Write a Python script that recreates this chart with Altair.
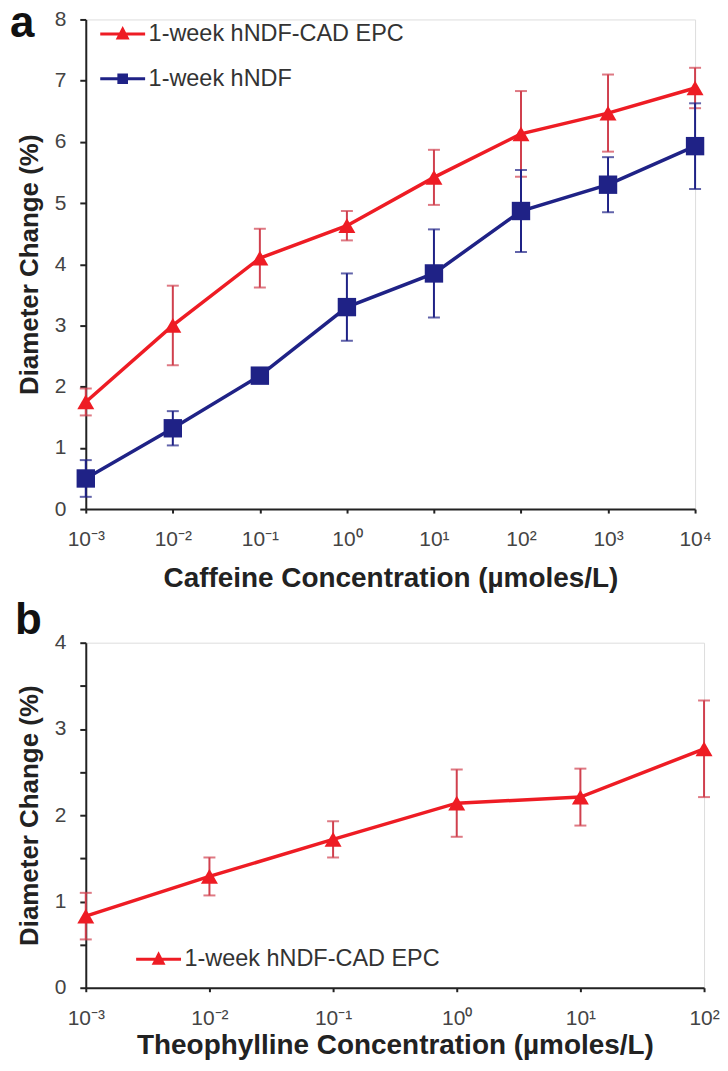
import altair as alt
import pandas as pd

# ---------------- data ----------------
series_names = ["1-week hNDF-CAD EPC", "1-week hNDF"]

conc_a = [0.001, 0.01, 0.1, 1, 10, 100, 1000, 10000]
tick_labels_a = ["10⁻³", "10⁻²", "10⁻¹", "10⁰", "10¹", "10²", "10³", "10⁴"]
red_a = [1.75, 3.0, 4.1, 4.63, 5.42, 6.13, 6.47, 6.88]
red_a_err = [0.22, 0.65, 0.48, 0.24, 0.45, 0.7, 0.63, 0.33]
blue_a = [0.5, 1.32, 2.18, 3.3, 3.85, 4.87, 5.3, 5.93]
blue_a_err = [0.3, 0.28, 0.06, 0.55, 0.72, 0.67, 0.45, 0.7]

conc_b = [0.001, 0.01, 0.1, 1, 10, 100]
tick_labels_b = ["10⁻³", "10⁻²", "10⁻¹", "10⁰", "10¹", "10²"]
red_b = [0.83, 1.29, 1.72, 2.14, 2.21, 2.77]
red_b_err = [0.27, 0.22, 0.21, 0.39, 0.33, 0.56]

y_ticks_a = [0, 1, 2, 3, 4, 5, 6, 7, 8]
y_ticks_b = [0, 0.5, 1, 1.5, 2, 2.5, 3, 3.5, 4]

RED = "#ee1c24"
RED_ERR = "#d0404e"
BLUE = "#1f2286"
FONT = "Liberation Sans"
AXC = "#222222"


def frame(conc, vals, errs, name):
    return pd.DataFrame({
        "conc": conc,
        "val": vals,
        "lo": [v - e for v, e in zip(vals, errs)],
        "hi": [v + e for v, e in zip(vals, errs)],
        "series": name,
    })


df_a = pd.concat([frame(conc_a, red_a, red_a_err, series_names[0]),
                  frame(conc_a, blue_a, blue_a_err, series_names[1])])
df_b = frame(conc_b, red_b, red_b_err, series_names[0])


def label_expr(labels):
    arr = "[" + ",".join("'" + s + "'" for s in labels) + "]"
    return arr + "[round(log(datum.value)/LN10) + 3]"


tri_path = "M-1,0L1,0M-0.2,0.18L0,-0.21L0.2,0.18Z"
sq_path = "M-1,0L1,0M-0.17,-0.17L0.17,-0.17L0.17,0.17L-0.17,0.17Z"


def panel(df, conc, tick_labels, yvals, ydom, xtitle, series, colors, err_colors,
          shapes, legend_paths, letter, letter_xy, legend_xy, w, h,
          ylabel_expr="datum.label", xtitle_pad=15):
    xenc = alt.X("conc:Q",
                 scale=alt.Scale(type="log", domain=[conc[0], conc[-1]], nice=False),
                 axis=alt.Axis(values=conc, labelExpr=label_expr(tick_labels), title=xtitle,
                               tickSize=4, labelPadding=16, labelFontSize=21,
                               labelColor="#444444", labelFont=FONT,
                               titleFontSize=28, titleFont=FONT, titleFontWeight="bold",
                               titleColor=AXC, titlePadding=xtitle_pad, domainColor=AXC,
                               domainWidth=2, tickColor=AXC, tickWidth=2, grid=False,
                               labelFlush=False))
    yaxis = alt.Axis(values=yvals, title="Diameter Change (%)", tickSize=6, labelPadding=14,
                     labelFontSize=21, labelColor="#444444", labelFont=FONT,
                     titleFontSize=26, titleFont=FONT, titleFontWeight="bold",
                     titleColor=AXC, titlePadding=12, domainColor=AXC, domainWidth=2,
                     tickColor=AXC, tickWidth=2, grid=False, labelExpr=ylabel_expr)
    yscale = alt.Scale(domain=ydom, nice=False)
    base = alt.Chart(df)
    layers = []
    for s, ec in zip(series, err_colors):
        layers.append(
            base.transform_filter(alt.datum.series == s)
            .mark_errorbar(ticks=True, size=12, thickness=2, color=ec)
            .encode(x=xenc, y=alt.Y("lo:Q", scale=yscale, axis=yaxis), y2="hi:Q")
        )
    for s, c in zip(series, colors):
        layers.append(
            base.transform_filter(alt.datum.series == s)
            .mark_line(color=c, strokeWidth=3.5)
            .encode(x=xenc, y=alt.Y("val:Q", scale=yscale, axis=yaxis))
        )
    for s, c, sh in zip(series, colors, shapes):
        layers.append(
            base.transform_filter(alt.datum.series == s)
            .mark_point(color=c, filled=True, opacity=1, shape=sh[0], size=sh[1])
            .encode(x=xenc, y=alt.Y("val:Q", scale=yscale, axis=yaxis))
        )
    leg = alt.Legend(title=None, orient="none", legendX=legend_xy[0], legendY=legend_xy[1],
                     symbolSize=2025, symbolStrokeWidth=3, labelFont=FONT, labelFontSize=23.5,
                     labelColor="#333333", labelOffset=2, padding=0, rowPadding=9,
                     labelLimit=400, symbolOpacity=1)
    layers.append(
        base.transform_filter("false")
        .mark_point(filled=True, size=2025, strokeWidth=3)
        .encode(
            x=xenc,
            y=alt.Y("val:Q", scale=yscale, axis=yaxis),
            fill=alt.Fill("series:N", scale=alt.Scale(domain=series, range=colors), legend=leg),
            stroke=alt.Stroke("series:N", scale=alt.Scale(domain=series, range=colors), legend=leg),
            shape=alt.Shape("series:N", scale=alt.Scale(domain=series, range=legend_paths), legend=leg),
        )
    )
    layers.append(
        alt.Chart(alt.Data(values=[{}]))
        .mark_text(text=letter, align="left", baseline="alphabetic", fontSize=44,
                   fontWeight="bold", font=FONT, color="#111111")
        .encode(x=alt.value(letter_xy[0]), y=alt.value(letter_xy[1]))
    )
    return alt.layer(*layers).properties(width=w, height=h)


top = panel(df_a, conc_a, tick_labels_a, y_ticks_a, [0, 8], "Caffeine Concentration (µmoles/L)",
            series_names, [RED, BLUE], [RED_ERR, BLUE],
            [("triangle-up", 290), ("square", 340)], [tri_path, sq_path],
            "a", (-76, 18), (13, -9.5), 611, 491, xtitle_pad=15)
bottom = panel(df_b, conc_b, tick_labels_b, y_ticks_b, [0, 4], "Theophylline Concentration (µmoles/L)",
               [series_names[0]], [RED], [RED_ERR],
               [("triangle-up", 290)], [tri_path],
               "b", (-71, -9), (49, 293.5), 620, 346,
               ylabel_expr="datum.value % 1 == 0 ? format(datum.value, 'd') : ''",
               xtitle_pad=3)

chart = alt.vconcat(top, bottom, spacing=4).resolve_scale(
    fill="independent", stroke="independent", shape="independent"
).properties(
    padding={"left": 1, "top": -8, "right": 0, "bottom": 0}
).configure_view(stroke=None).configure(font=FONT, background="white")

chart.save("out.html", embed_options={"renderer": "svg", "actions": False})
